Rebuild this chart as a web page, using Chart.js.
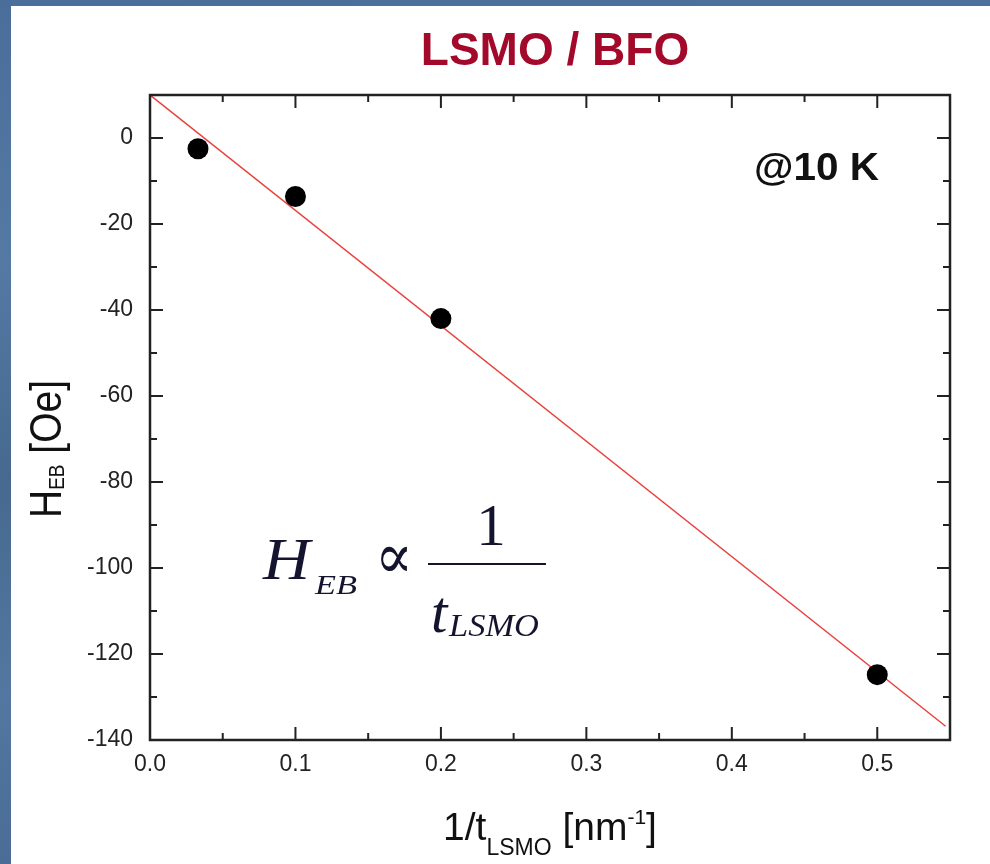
<!DOCTYPE html>
<html>
<head>
<meta charset="utf-8">
<title>LSMO / BFO exchange bias</title>
<script src="https://cdn.jsdelivr.net/npm/chart.js@4.4.0/dist/chart.umd.min.js"></script>
<style>
  html, body { margin: 0; padding: 0; background: #4d719c; }
  #wrap { width: 990px; height: 864px; }
</style>
</head>
<body>
<div id="wrap"><canvas id="hebChart" width="990" height="864"></canvas></div>
<script>
// data
const invThickness = [0.033, 0.1, 0.2, 0.5];      // 1/t_LSMO [nm^-1]
const hebValues = [-2.5, -13.6, -42, -124.8];      // H_EB [Oe]
const fitX = [0, 0.547];                           // red fit line ends
const fitY = [10, -136.8];

const xMajorTicks = [0, 0.1, 0.2, 0.3, 0.4, 0.5];
const xMinorTicks = [0.05, 0.15, 0.25, 0.35, 0.45];
const yMajorTicks = [-140, -120, -100, -80, -60, -40, -20, 0];
const yMinorTicks = [-130, -110, -90, -70, -50, -30, -10];

const SANS = '"Liberation Sans", Arial, sans-serif';
const SERIF = '"Liberation Serif", "Times New Roman", serif';

// draw text squeezed/stretched to a given width
function fitText(ctx, text, x, y, w) {
    const natural = ctx.measureText(text).width;
    ctx.save();
    ctx.translate(x, y);
    ctx.scale(w / natural, 1);
    ctx.fillText(text, 0, 0);
    ctx.restore();
}

// draw a run of [text, font, baselineShift] pieces
function drawRun(ctx, pieces, x, y) {
    pieces.forEach(p => {
        ctx.font = p[1];
        ctx.fillText(p[0], x, y + p[2]);
        x += ctx.measureText(p[0]).width;
    });
    return x;
}
function runWidth(ctx, pieces) {
    let w = 0;
    pieces.forEach(p => { ctx.font = p[1]; w += ctx.measureText(p[0]).width; });
    return w;
}

const slidePlugin = {
    id: 'slide',
    beforeDraw(chart) {
        const ctx = chart.ctx;
        ctx.save();
        const g = ctx.createLinearGradient(0, 0, 60, 864);
        g.addColorStop(0, '#4a6e99');
        g.addColorStop(0.3, '#5479a3');
        g.addColorStop(0.55, '#47698f');
        g.addColorStop(0.8, '#5377a0');
        g.addColorStop(1, '#4a6c96');
        ctx.fillStyle = g;
        ctx.fillRect(0, 0, chart.width, chart.height);
        ctx.fillStyle = '#ffffff';
        ctx.fillRect(11, 6, chart.width - 11, chart.height - 6);
        ctx.restore();
    },
    afterDraw(chart) {
        const ctx = chart.ctx;
        const a = chart.chartArea;
        const xs = chart.scales.x;
        const ys = chart.scales.y;
        ctx.save();

        // frame
        ctx.strokeStyle = '#222';
        ctx.lineWidth = 2.5;
        ctx.strokeRect(a.left, a.top, a.right - a.left, a.bottom - a.top);

        // inward ticks on all four sides
        ctx.lineWidth = 2;
        ctx.beginPath();
        const xt = (v, len) => {
            const px = xs.getPixelForValue(v);
            ctx.moveTo(px, a.bottom); ctx.lineTo(px, a.bottom - len);
            ctx.moveTo(px, a.top); ctx.lineTo(px, a.top + len);
        };
        const yt = (v, len) => {
            const py = ys.getPixelForValue(v);
            ctx.moveTo(a.left, py); ctx.lineTo(a.left + len, py);
            ctx.moveTo(a.right, py); ctx.lineTo(a.right - len, py);
        };
        xMajorTicks.forEach(v => xt(v, 13));
        xMinorTicks.forEach(v => xt(v, 7));
        yMajorTicks.forEach(v => yt(v, 13));
        yMinorTicks.forEach(v => yt(v, 7));
        ctx.stroke();

        // title
        ctx.fillStyle = '#a3092b';
        ctx.textAlign = 'center';
        ctx.textBaseline = 'alphabetic';
        ctx.font = 'bold 46px ' + SANS;
        ctx.fillText('LSMO / BFO', 555, 65);

        // temperature note
        ctx.textAlign = 'left';
        ctx.fillStyle = '#111';
        ctx.font = 'bold 38px ' + SANS;
        fitText(ctx, '@10 K', 754, 180, 125);

        // x axis title
        const xPieces = [
            ['1/t', '39px ' + SANS, 0],
            ['LSMO', '23px ' + SANS, 15],
            [' [nm', '39px ' + SANS, 0],
            ['-1', '21px ' + SANS, -16],
            [']', '39px ' + SANS, 0]
        ];
        const xw = runWidth(ctx, xPieces);
        drawRun(ctx, xPieces, (a.left + a.right) / 2 - xw / 2, 840);

        // y axis title
        ctx.save();
        ctx.translate(61, 518);
        ctx.scale(1.15, 1);
        ctx.rotate(-Math.PI / 2);
        drawRun(ctx, [
            ['H', '39px ' + SANS, 0],
            ['EB', '19px ' + SANS, 3],
            [' [Oe]', '39px ' + SANS, 0]
        ], 0, 0);
        ctx.restore();

        // formula  H_EB ∝ 1 / t_LSMO
        ctx.fillStyle = '#14142e';
        ctx.font = 'italic 59px ' + SERIF;
        fitText(ctx, 'H', 263, 579, 47);
        ctx.font = 'italic 28px ' + SERIF;
        fitText(ctx, 'EB', 315, 594, 42);
        ctx.font = '64px "DejaVu Serif", ' + SERIF;
        fitText(ctx, '\u221D', 375, 578, 38);
        ctx.fillRect(428, 563, 118, 2);
        ctx.textAlign = 'center';
        ctx.font = '59px ' + SERIF;
        ctx.fillText('1', 491, 545);
        ctx.textAlign = 'left';
        ctx.font = 'italic 59px ' + SERIF;
        ctx.fillText('t', 431, 632);
        ctx.font = 'italic 31px ' + SERIF;
        fitText(ctx, 'LSMO', 449, 636, 90);

        ctx.restore();
    }
};

const hebChart = new Chart(document.getElementById('hebChart'), {
    type: 'scatter',
    data: {
        datasets: [
            {
                label: 'fit',
                data: fitX.map((x, i) => ({ x: x, y: fitY[i] })),
                showLine: true,
                borderColor: '#e8423f',
                borderWidth: 1.5,
                pointRadius: 0,
                order: 2
            },
            {
                label: 'H_EB',
                data: invThickness.map((x, i) => ({ x: x, y: hebValues[i] })),
                backgroundColor: '#000',
                borderWidth: 0,
                pointRadius: 10.5,
                order: 1
            }
        ]
    },
    options: {
        responsive: false,
        devicePixelRatio: 1,
        animation: false,
        layout: { padding: { top: 95, right: 40, bottom: 0, left: 0 } },
        plugins: {
            legend: { display: false },
            tooltip: { enabled: false }
        },
        scales: {
            x: {
                type: 'linear',
                min: 0,
                max: 0.55,
                afterBuildTicks: s => { s.ticks = xMajorTicks.map(v => ({ value: v })); },
                afterFit: s => { s.height = 124; },
                grid: { display: false, drawTicks: false },
                border: { display: false },
                ticks: {
                    font: { family: SANS, size: 23 },
                    color: '#222',
                    padding: 11,
                    maxRotation: 0,
                    autoSkip: false,
                    callback: v => Number(v).toFixed(1)
                }
            },
            y: {
                type: 'linear',
                min: -140,
                max: 10,
                afterBuildTicks: s => { s.ticks = yMajorTicks.map(v => ({ value: v })); },
                afterFit: s => { s.width = 150; },
                grid: { display: false, drawTicks: false },
                border: { display: false },
                ticks: {
                    font: { family: SANS, size: 23 },
                    color: '#222',
                    padding: 17,
                    autoSkip: false,
                    callback: v => String(v)
                }
            }
        }
    },
    plugins: [slidePlugin]
});
</script>
</body>
</html>
